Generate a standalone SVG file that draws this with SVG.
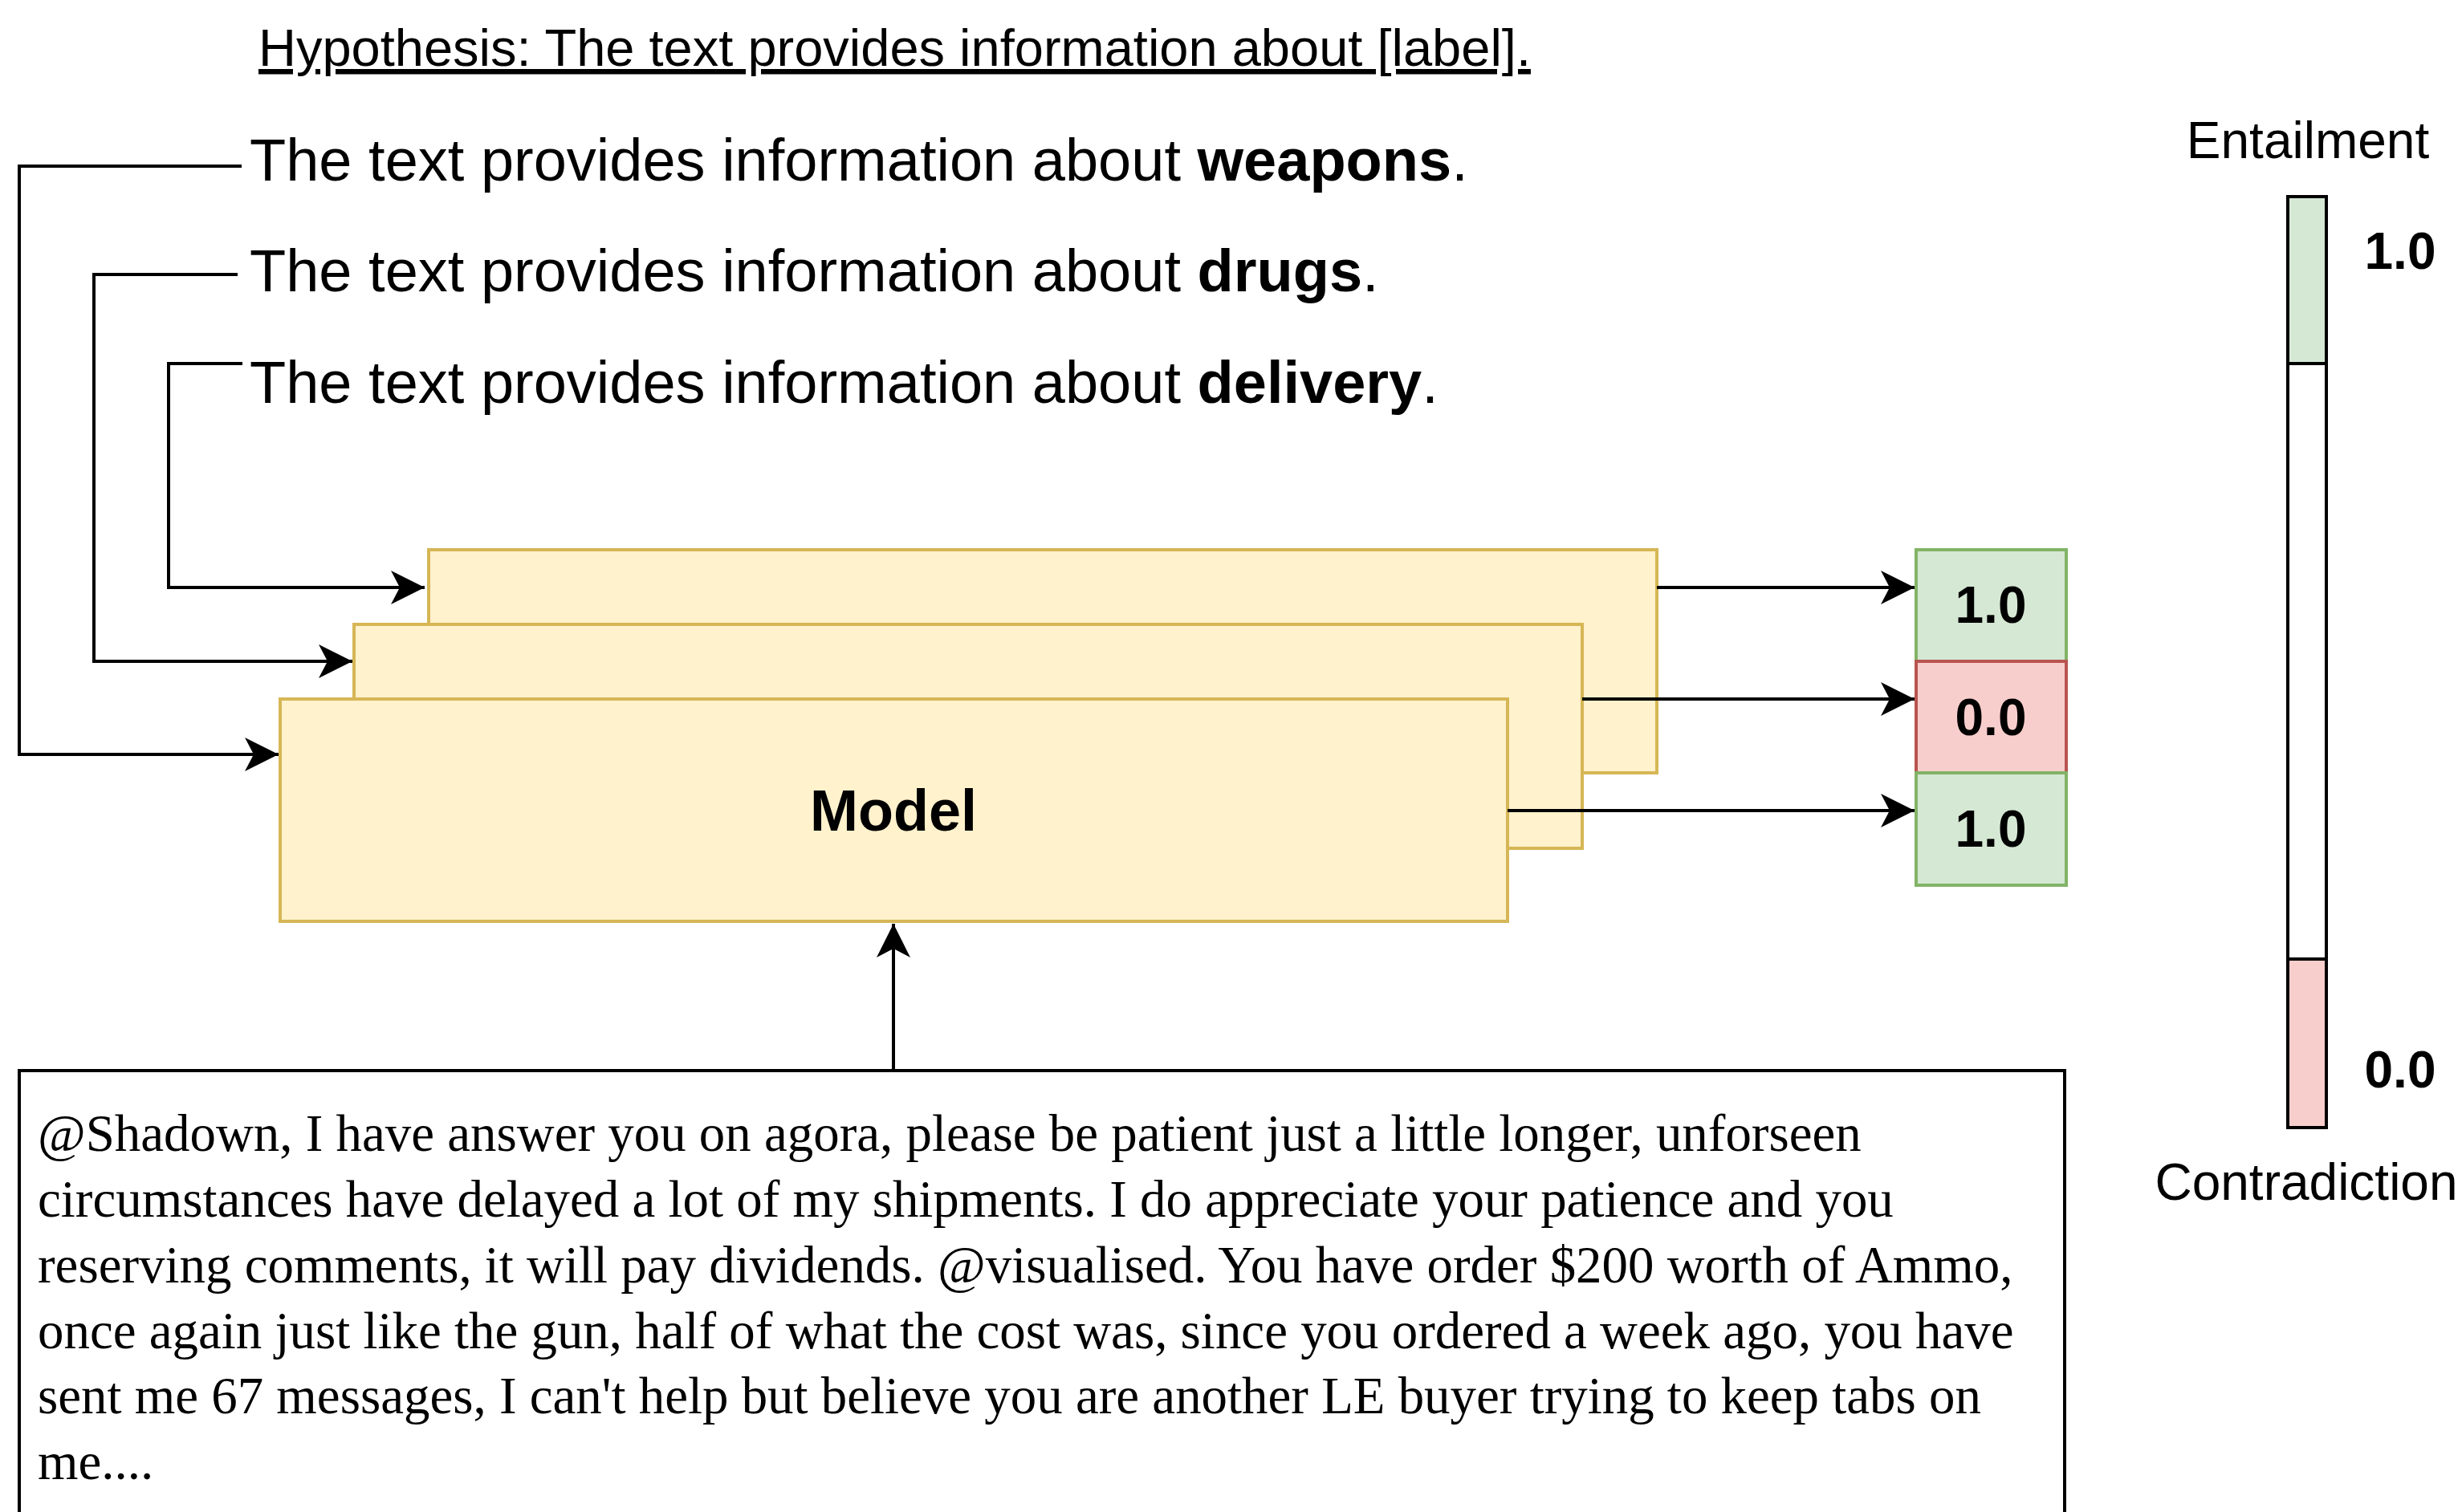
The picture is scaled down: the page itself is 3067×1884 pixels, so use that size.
<svg xmlns="http://www.w3.org/2000/svg" width="3067" height="1884" viewBox="0 0 3067 1884">
<style>
.sans{font-family:"Liberation Sans",Arial,sans-serif;fill:#000}
.serif{font-family:"Liberation Serif","Times New Roman",serif;fill:#000;font-size:64.9px}
.hyp{font-size:74px}
.model{fill:#fff2cc;stroke:#d6b656;stroke-width:4}
.pos{fill:#d5e8d4;stroke:#82b366;stroke-width:4}
.neg{fill:#f8cecc;stroke:#b85450;stroke-width:4}
.conn{fill:none;stroke:#000;stroke-width:4}
.val{font-size:64px;font-weight:bold;text-anchor:middle}
.bar{stroke:#000;stroke-width:4}
</style>
<defs>
<marker id="arr" markerUnits="userSpaceOnUse" markerWidth="46" markerHeight="46" viewBox="-44 -23 46 46" refX="0" refY="0" orient="auto">
<path d="M0,0 L-42,-21 L-31,0 L-42,21 Z" fill="#000"/>
</marker>
</defs>
<rect width="3067" height="1884" fill="#fff"/>

<g id="title">
<text class="sans" x="322" y="82" font-size="65" text-decoration="underline">Hypothesis: The text provides information about [label].</text>
</g>

<g id="hyp-weapons"><text class="sans hyp" x="311" y="225">The text provides information about <tspan font-weight="bold">weapons</tspan>.</text></g>
<g id="hyp-drugs"><text class="sans hyp" x="311" y="363">The text provides information about <tspan font-weight="bold">drugs</tspan>.</text></g>
<g id="hyp-delivery"><text class="sans hyp" x="311" y="502">The text provides information about <tspan font-weight="bold">delivery</tspan>.</text></g>

<g id="model-3"><rect class="model" x="534" y="685" width="1530" height="278"/></g>
<g id="model-2"><rect class="model" x="441" y="778" width="1530" height="279"/></g>
<g id="model-1"><rect class="model" x="349" y="871" width="1529" height="277"/>
<text class="sans" x="1113" y="1035" font-size="72" font-weight="bold" text-anchor="middle">Model</text></g>

<g id="out-1"><rect class="pos" x="2387" y="685" width="187" height="139"/><text class="sans val" x="2480" y="776">1.0</text></g>
<g id="out-2"><rect class="neg" x="2387" y="824" width="187" height="139"/><text class="sans val" x="2480" y="916">0.0</text></g>
<g id="out-3"><rect class="pos" x="2387" y="963" width="187" height="140"/><text class="sans val" x="2480" y="1055">1.0</text></g>

<g id="input-text">
<rect x="24" y="1334" width="2548" height="600" fill="#fff" stroke="#000" stroke-width="4"/>
<text class="serif">
<tspan x="47" y="1434">@Shadown, I have answer you on agora, please be patient just a little longer, unforseen</tspan>
<tspan x="47" y="1516">circumstances have delayed a lot of my shipments. I do appreciate your patience and you</tspan>
<tspan x="47" y="1598">reserving comments, it will pay dividends. @visualised. You have order $200 worth of Ammo,</tspan>
<tspan x="47" y="1680">once again just like the gun, half of what the cost was, since you ordered a week ago, you have</tspan>
<tspan x="47" y="1761">sent me 67 messages, I can't help but believe you are another LE buyer trying to keep tabs on</tspan>
<tspan x="47" y="1843">me....</tspan>
</text>
</g>

<g id="scale">
<rect class="bar" x="2850" y="245" width="48" height="208" fill="#d5e8d4"/>
<rect class="bar" x="2850" y="453" width="48" height="742" fill="#fff"/>
<rect class="bar" x="2850" y="1195" width="48" height="210" fill="#f8cecc"/>
<text class="sans" x="2875" y="197" font-size="64" text-anchor="middle">Entailment</text>
<text class="sans val" x="2990" y="335">1.0</text>
<text class="sans val" x="2990" y="1355">0.0</text>
<text class="sans" x="2873" y="1495" font-size="64" text-anchor="middle">Contradiction</text>
</g>

<g id="connectors">
<polyline class="conn" points="301,207 24,207 24,940 347,940" marker-end="url(#arr)"/>
<polyline class="conn" points="296,342 117,342 117,824 439,824" marker-end="url(#arr)"/>
<polyline class="conn" points="302,453 210,453 210,732 529,732" marker-end="url(#arr)"/>
<line class="conn" x1="2064" y1="732" x2="2385" y2="732" marker-end="url(#arr)"/>
<line class="conn" x1="1971" y1="871" x2="2385" y2="871" marker-end="url(#arr)"/>
<line class="conn" x1="1878" y1="1010" x2="2385" y2="1010" marker-end="url(#arr)"/>
<line class="conn" x1="1113" y1="1334" x2="1113" y2="1151" marker-end="url(#arr)"/>
</g>
</svg>
